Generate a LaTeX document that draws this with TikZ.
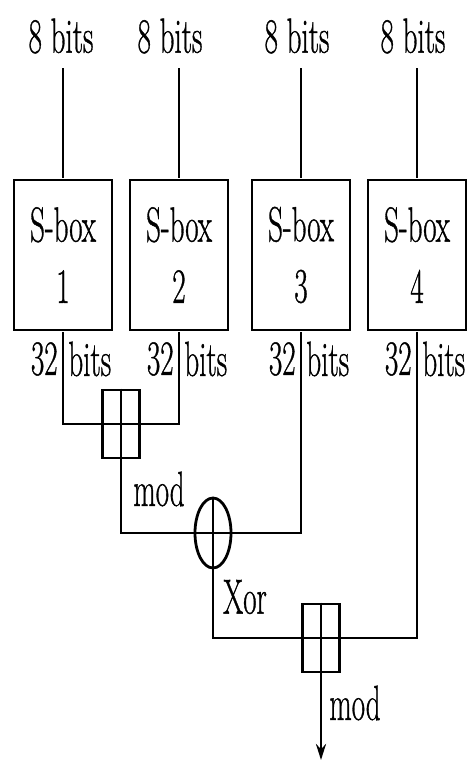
\documentclass[tikz,border=0pt]{standalone}
\usepackage{fontspec}
\usetikzlibrary{shapes.geometric,positioning,arrows.meta}
\newfontfamily\heavyfont{Latin Modern Roman}[FakeBold=1]

\begin{document}
\begin{tikzpicture}[x=0.5pt,y=-0.5pt,
  wire/.style={line width=1.4pt},
  lbl/.style={font=\heavyfont\fontsize{14.5}{18}\selectfont, inner sep=0pt, yscale=1.7},
  sbox/.style={lbl, draw, line width=1.4pt, minimum width=49pt, minimum height=44.1pt, align=center},
  addbox/.style={draw, line width=1.4pt, minimum width=18.5pt, minimum height=34pt, inner sep=0pt},
  xorring/.style={draw, ellipse, line width=1.4pt, minimum width=18pt, minimum height=35pt, inner sep=0pt}]

% ---- frame (pixel units, y down) ----
\useasboundingbox (0,0) rectangle (469,762);

% ---- S-boxes with their inputs and outputs ----
\foreach \i/\x/\lx in {1/63/61, 2/179/170, 3/301/297, 4/417/413} {
  \node[sbox] (s\i) at (\x,255) {S-box\\\i};
  \node[lbl] (in\i) at (\lx,36) {8 bits};
  \draw[wire] ([yshift=-7pt]in\i.south -| s\i.north) -- (s\i.north);
  \node[lbl, left=2.5pt] (w\i) at (s\i.south |- 0,359) {32};
  \node[lbl, right=2.5pt] (b\i) at (s\i.south |- 0,359) {bits};
}

% ---- combining stage ----
\node[addbox] (add1) at (121,424) {};
\node[xorring] (xor) at (213,533) {};
\node[addbox] (add2) at (321,638) {};
\coordinate (out) at (321,760);

\draw[wire] (s1.south) |- (add1.center) -| (s2.south);
\draw[wire] (add1.north) |- (xor.center) -| (s3.south);
\draw[wire] (xor.north) |- (add2.center) -| (s4.south);
\draw[wire,-{Stealth[length=8pt,width=5pt]}] (add2.north) -- (out);

% labels
\node[lbl] (m1) at (159,489) {mod};
\node[lbl] (x1) at (245,597) {Xor};
\node[lbl] (m2) at (355,703) {mod};

\end{tikzpicture}
\end{document}
